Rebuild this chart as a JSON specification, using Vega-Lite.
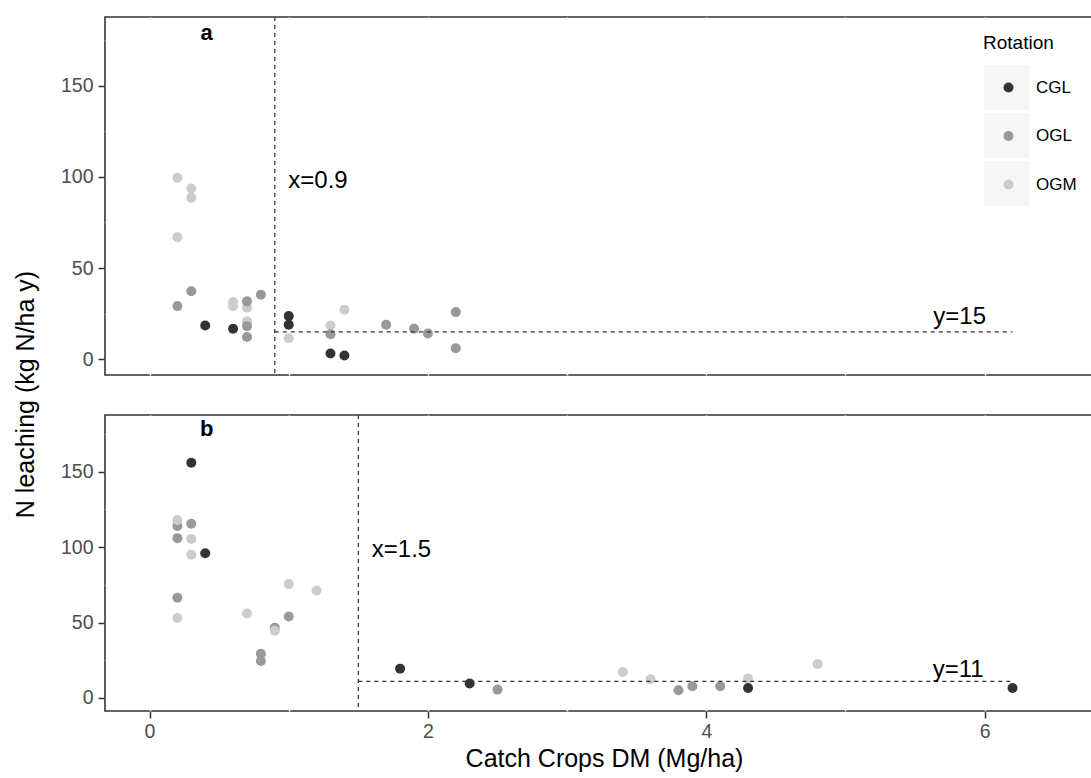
{
  "$schema": "https://vega.github.io/schema/vega-lite/v6.json",
  "autosize": {"type": "pad"},
  "padding": {"left": 12, "top": 15, "right": 0, "bottom": 0},
  "background": "white",
  "bounds": "flush",
  "config": {
    "font": "Liberation Sans",
    "view": {"stroke": "#333333", "strokeWidth": 1.6},
    "axis": {"labelFont": "Liberation Sans", "titleFont": "Liberation Sans"},
    "legend": {"labelFont": "Liberation Sans", "titleFont": "Liberation Sans"}
  },
  "datasets": {
    "pts": [
      {"p": "a", "x": 0.2, "y": 99.5, "r": "OGM"},
      {"p": "a", "x": 0.3, "y": 93.6, "r": "OGM"},
      {"p": "a", "x": 0.3, "y": 88.5, "r": "OGM"},
      {"p": "a", "x": 0.2, "y": 66.9, "r": "OGM"},
      {"p": "a", "x": 0.6, "y": 31.3, "r": "OGM"},
      {"p": "a", "x": 0.6, "y": 29.0, "r": "OGM"},
      {"p": "a", "x": 0.7, "y": 28.2, "r": "OGM"},
      {"p": "a", "x": 0.7, "y": 20.7, "r": "OGM"},
      {"p": "a", "x": 1.0, "y": 11.5, "r": "OGM"},
      {"p": "a", "x": 1.3, "y": 18.5, "r": "OGM"},
      {"p": "a", "x": 1.4, "y": 27.1, "r": "OGM"},
      {"p": "a", "x": 0.3, "y": 37.2, "r": "OGL"},
      {"p": "a", "x": 0.2, "y": 29.1, "r": "OGL"},
      {"p": "a", "x": 0.7, "y": 31.7, "r": "OGL"},
      {"p": "a", "x": 0.7, "y": 18.1, "r": "OGL"},
      {"p": "a", "x": 0.7, "y": 12.1, "r": "OGL"},
      {"p": "a", "x": 0.8, "y": 35.3, "r": "OGL"},
      {"p": "a", "x": 1.3, "y": 13.7, "r": "OGL"},
      {"p": "a", "x": 1.7, "y": 18.9, "r": "OGL"},
      {"p": "a", "x": 1.9, "y": 16.7, "r": "OGL"},
      {"p": "a", "x": 2.0, "y": 14.1, "r": "OGL"},
      {"p": "a", "x": 2.2, "y": 25.8, "r": "OGL"},
      {"p": "a", "x": 2.2, "y": 6.0, "r": "OGL"},
      {"p": "a", "x": 0.4, "y": 18.5, "r": "CGL"},
      {"p": "a", "x": 0.6, "y": 16.7, "r": "CGL"},
      {"p": "a", "x": 1.0, "y": 23.6, "r": "CGL"},
      {"p": "a", "x": 1.0, "y": 18.9, "r": "CGL"},
      {"p": "a", "x": 1.3, "y": 3.1, "r": "CGL"},
      {"p": "a", "x": 1.4, "y": 2.0, "r": "CGL"},
      {"p": "b", "x": 0.2, "y": 114.0, "r": "OGL"},
      {"p": "b", "x": 0.2, "y": 106.0, "r": "OGL"},
      {"p": "b", "x": 0.3, "y": 115.5, "r": "OGL"},
      {"p": "b", "x": 0.2, "y": 66.5, "r": "OGL"},
      {"p": "b", "x": 0.9, "y": 46.5, "r": "OGL"},
      {"p": "b", "x": 0.8, "y": 29.3, "r": "OGL"},
      {"p": "b", "x": 0.8, "y": 24.5, "r": "OGL"},
      {"p": "b", "x": 1.0, "y": 54.0, "r": "OGL"},
      {"p": "b", "x": 2.5, "y": 5.5, "r": "OGL"},
      {"p": "b", "x": 3.8, "y": 5.1, "r": "OGL"},
      {"p": "b", "x": 3.9, "y": 7.7, "r": "OGL"},
      {"p": "b", "x": 4.1, "y": 7.7, "r": "OGL"},
      {"p": "b", "x": 0.2, "y": 118.0, "r": "OGM"},
      {"p": "b", "x": 0.3, "y": 105.5, "r": "OGM"},
      {"p": "b", "x": 0.3, "y": 95.0, "r": "OGM"},
      {"p": "b", "x": 0.2, "y": 53.0, "r": "OGM"},
      {"p": "b", "x": 0.7, "y": 56.0, "r": "OGM"},
      {"p": "b", "x": 0.9, "y": 44.5, "r": "OGM"},
      {"p": "b", "x": 1.0, "y": 75.5, "r": "OGM"},
      {"p": "b", "x": 1.2, "y": 71.3, "r": "OGM"},
      {"p": "b", "x": 3.4, "y": 17.2, "r": "OGM"},
      {"p": "b", "x": 3.6, "y": 12.4, "r": "OGM"},
      {"p": "b", "x": 4.3, "y": 12.8, "r": "OGM"},
      {"p": "b", "x": 4.8, "y": 22.5, "r": "OGM"},
      {"p": "b", "x": 0.3, "y": 156.0, "r": "CGL"},
      {"p": "b", "x": 0.4, "y": 96.0, "r": "CGL"},
      {"p": "b", "x": 1.8, "y": 19.4, "r": "CGL"},
      {"p": "b", "x": 2.3, "y": 9.5, "r": "CGL"},
      {"p": "b", "x": 4.3, "y": 6.6, "r": "CGL"},
      {"p": "b", "x": 6.2, "y": 6.6, "r": "CGL"}
    ],
    "ann": [
      {"p": "a", "x": 1.21, "y": 98, "label": "x=0.9", "kind": "note"},
      {"p": "a", "x": 5.82, "y": 23, "label": "y=15", "kind": "note"},
      {"p": "a", "x": 0.41, "y": 179, "label": "a", "kind": "panel"},
      {"p": "b", "x": 1.81, "y": 98, "label": "x=1.5", "kind": "note"},
      {"p": "b", "x": 5.81, "y": 18.5, "label": "y=11", "kind": "note"},
      {"p": "b", "x": 0.41, "y": 178.5, "label": "b", "kind": "panel"}
    ],
    "vr": [
      {"p": "a", "x": 0.9},
      {"p": "b", "x": 1.5}
    ],
    "hr": [
      {"p": "a", "y": 15, "x": 0.9, "x2": 6.2},
      {"p": "b", "y": 11, "x": 1.5, "x2": 6.2}
    ]
  },
  "vconcat": [
    {
      "width": 998,
      "height": 358,
      "layer": [
        {
          "data": {"name": "pts"},
          "transform": [{"filter": "false"}],
          "mark": {"type": "square", "filled": true},
          "encoding": {
            "x": {"field": "x", "type": "quantitative"},
            "y": {"field": "y", "type": "quantitative"},
            "color": {
              "field": "r", "type": "nominal",
              "scale": {"domain": ["CGL", "OGL", "OGM"], "range": ["#f2f2f2", "#f2f2f2", "#f2f2f2"]},
              "legend": {
                "title": "Rotation", "titleOpacity": 0, "labelExpr": "''",
                "orient": "none", "legendX": 879, "legendY": 17, "padding": 0,
                "symbolType": "square", "symbolSize": 2025, "symbolStrokeWidth": 0,
                "symbolOffset": 0, "titlePadding": 12, "rowPadding": 3,
                "titleFontSize": 19, "labelFontSize": 17, "titleFontWeight": "normal"
              }
            }
          }
        },
        {
          "data": {"name": "pts"},
          "transform": [{"filter": "datum.p === 'a'"}],
          "mark": {"type": "circle", "size": 100, "opacity": 1},
          "encoding": {
            "x": {
              "field": "x", "type": "quantitative",
              "scale": {"domain": [-0.32, 6.85], "nice": false, "zero": false},
              "axis": {"values": [0, 1, 2, 3, 4, 5, 6], "grid": true, "gridColor": "#ffffff", "gridWidth": 1.5,
                       "ticks": false, "labels": false, "domain": false, "title": null}
            },
            "y": {
              "field": "y", "type": "quantitative",
              "scale": {"domain": [-8.7, 187.7], "nice": false, "zero": false},
              "axis": {
                "title": "N leaching (kg N/ha y)",
                "values": [0, 25, 50, 75, 100, 125, 150, 175],
                "format": "d",
                "labelExpr": "datum.value % 50 === 0 ? datum.label : ''",
                "tickOpacity": {"condition": {"test": "datum.value % 50 === 0", "value": 1}, "value": 0},
                "grid": true, "gridColor": "#ffffff", "gridWidth": 1.5,
                "domain": false, "tickSize": 7, "tickColor": "#333333", "tickWidth": 1.5,
                "labelFontSize": 19.5, "labelColor": "#4d4d4d", "labelPadding": 5,
                "titleFontSize": 25, "titleFontWeight": "normal", "titleColor": "#000000",
                "titleX": -80, "titleY": 377, "titleAlign": "center", "titleBaseline": "middle", "titleAngle": -90
              }
            },
            "fill": {
              "field": "r", "type": "nominal",
              "scale": {"range": ["#333333", "#999999", "#cccccc"]},
              "legend": {
                "title": "Rotation",
                "orient": "none", "legendX": 878, "legendY": 17, "padding": 0,
                "symbolType": "circle", "symbolSize": 100, "symbolStrokeWidth": 0,
                "symbolOffset": 17, "labelOffset": 19, "titlePadding": 26, "rowPadding": 30.5,
                "titleFontSize": 19, "labelFontSize": 17, "titleFontWeight": "normal",
                "titleColor": "#000000", "labelColor": "#000000"
              }
            }
          }
        },
        {
          "data": {"name": "vr"},
          "transform": [{"filter": "datum.p === 'a'"}],
          "mark": {"type": "rule", "strokeDash": [4, 4], "color": "#333333", "strokeWidth": 1.3},
          "encoding": {"x": {"field": "x", "type": "quantitative"}}
        },
        {
          "data": {"name": "hr"},
          "transform": [{"filter": "datum.p === 'a'"}],
          "mark": {"type": "rule", "strokeDash": [4, 4], "color": "#333333", "strokeWidth": 1.3},
          "encoding": {
            "y": {"field": "y", "type": "quantitative"},
            "x": {"field": "x", "type": "quantitative"},
            "x2": {"field": "x2"}
          }
        },
        {
          "data": {"name": "ann"},
          "transform": [{"filter": "datum.p === 'a' && datum.kind === 'note'"}],
          "mark": {"type": "text", "fontSize": 24, "align": "center", "baseline": "middle", "color": "#000000"},
          "encoding": {
            "x": {"field": "x", "type": "quantitative"},
            "y": {"field": "y", "type": "quantitative"},
            "text": {"field": "label"}
          }
        },
        {
          "data": {"name": "ann"},
          "transform": [{"filter": "datum.p === 'a' && datum.kind === 'panel'"}],
          "mark": {"type": "text", "fontSize": 22, "fontWeight": "bold", "align": "center", "baseline": "middle", "color": "#000000"},
          "encoding": {
            "x": {"field": "x", "type": "quantitative"},
            "y": {"field": "y", "type": "quantitative"},
            "text": {"field": "label"}
          }
        }
      ]
    },
    {
      "width": 998,
      "height": 296,
      "layer": [
        {
          "data": {"name": "pts"},
          "transform": [{"filter": "datum.p === 'b'"}],
          "mark": {"type": "circle", "size": 100, "opacity": 1},
          "encoding": {
            "x": {
              "field": "x", "type": "quantitative",
              "scale": {"domain": [-0.32, 6.85], "nice": false, "zero": false},
              "axis": {
                "title": "Catch Crops DM (Mg/ha)",
                "values": [0, 1, 2, 3, 4, 5, 6],
                "format": "d",
                "labelExpr": "datum.value % 2 === 0 ? datum.label : ''",
                "tickOpacity": {"condition": {"test": "datum.value % 2 === 0", "value": 1}, "value": 0},
                "grid": true, "gridColor": "#ffffff", "gridWidth": 1.5,
                "domain": false, "tickSize": 7, "tickColor": "#333333", "tickWidth": 1.5,
                "labelFontSize": 19.5, "labelColor": "#4d4d4d", "labelPadding": 4,
                "titleFontSize": 25, "titleFontWeight": "normal", "titleColor": "#000000", "titlePadding": 6
              }
            },
            "y": {
              "field": "y", "type": "quantitative",
              "scale": {"domain": [-8.7, 187.7], "nice": false, "zero": false},
              "axis": {
                "title": null,
                "values": [0, 25, 50, 75, 100, 125, 150, 175],
                "format": "d",
                "labelExpr": "datum.value % 50 === 0 ? datum.label : ''",
                "tickOpacity": {"condition": {"test": "datum.value % 50 === 0", "value": 1}, "value": 0},
                "grid": true, "gridColor": "#ffffff", "gridWidth": 1.5,
                "domain": false, "tickSize": 7, "tickColor": "#333333", "tickWidth": 1.5,
                "labelFontSize": 19.5, "labelColor": "#4d4d4d", "labelPadding": 5
              }
            },
            "fill": {
              "field": "r", "type": "nominal",
              "scale": {"range": ["#333333", "#999999", "#cccccc"]},
              "legend": null
            }
          }
        },
        {
          "data": {"name": "vr"},
          "transform": [{"filter": "datum.p === 'b'"}],
          "mark": {"type": "rule", "strokeDash": [4, 4], "color": "#333333", "strokeWidth": 1.3},
          "encoding": {"x": {"field": "x", "type": "quantitative"}}
        },
        {
          "data": {"name": "hr"},
          "transform": [{"filter": "datum.p === 'b'"}],
          "mark": {"type": "rule", "strokeDash": [4, 4], "color": "#333333", "strokeWidth": 1.3},
          "encoding": {
            "y": {"field": "y", "type": "quantitative"},
            "x": {"field": "x", "type": "quantitative"},
            "x2": {"field": "x2"}
          }
        },
        {
          "data": {"name": "ann"},
          "transform": [{"filter": "datum.p === 'b' && datum.kind === 'note'"}],
          "mark": {"type": "text", "fontSize": 24, "align": "center", "baseline": "middle", "color": "#000000"},
          "encoding": {
            "x": {"field": "x", "type": "quantitative"},
            "y": {"field": "y", "type": "quantitative"},
            "text": {"field": "label"}
          }
        },
        {
          "data": {"name": "ann"},
          "transform": [{"filter": "datum.p === 'b' && datum.kind === 'panel'"}],
          "mark": {"type": "text", "fontSize": 22, "fontWeight": "bold", "align": "center", "baseline": "middle", "color": "#000000"},
          "encoding": {
            "x": {"field": "x", "type": "quantitative"},
            "y": {"field": "y", "type": "quantitative"},
            "text": {"field": "label"}
          }
        }
      ]
    }
  ],
  "spacing": 40,
  "resolve": {"scale": {"color": "independent", "fill": "independent"}}
}
